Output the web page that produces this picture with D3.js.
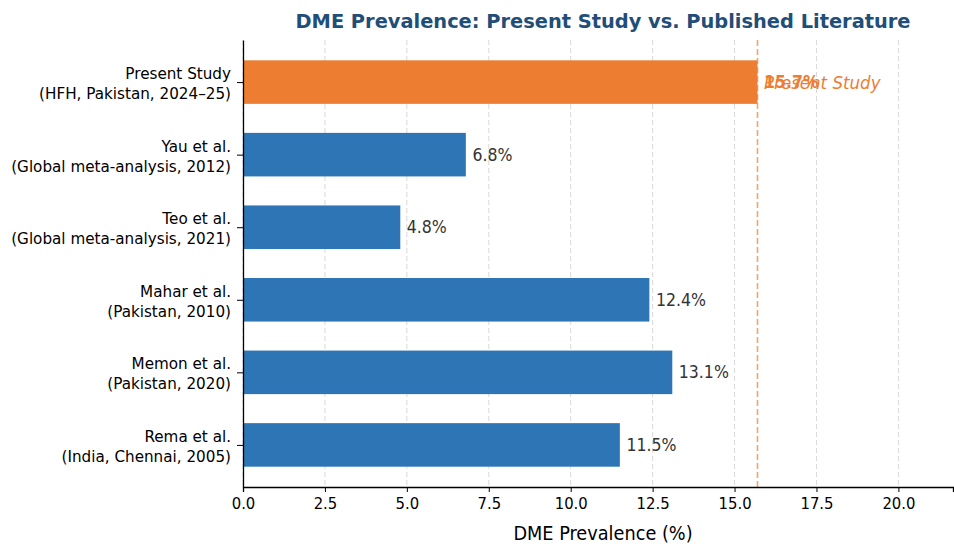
<!DOCTYPE html>
<html>
<head>
<meta charset="utf-8">
<script src="https://cdn.jsdelivr.net/npm/d3@7"></script>
<style>
  body { margin: 0; background: #fff; }
  svg { display: block; }
  .cond { font-family: "DejaVu Sans Condensed", "DejaVu Sans", sans-serif; font-stretch: condensed; }
</style>
</head>
<body>
<svg id="chart" width="954" height="544"></svg>
<script>
// Study labels (top to bottom) and DME prevalence values (%)
const studies = [
  ["Present Study", "(HFH, Pakistan, 2024\u201325)"],
  ["Yau et al.", "(Global meta-analysis, 2012)"],
  ["Teo et al.", "(Global meta-analysis, 2021)"],
  ["Mahar et al.", "(Pakistan, 2010)"],
  ["Memon et al.", "(Pakistan, 2020)"],
  ["Rema et al.", "(India, Chennai, 2005)"]
];
const prevalence = [15.7, 6.8, 4.8, 12.4, 13.1, 11.5];
const isPresent = [true, false, false, false, false, false];
const xTicks = [0, 2.5, 5, 7.5, 10, 12.5, 15, 17.5, 20];

const colorPresent = "#ED7D31";
const colorOther = "#2E75B6";

const svg = d3.select("#chart");
const margin = { top: 40, right: 1, bottom: 57, left: 243 };
const W = 954, H = 544;
const innerW = W - margin.left - margin.right;
const innerH = H - margin.top - margin.bottom;

const g = svg.append("g").attr("transform", `translate(${margin.left},${margin.top})`);

const xMax = d3.max(prevalence) * 1.38;
const x = d3.scaleLinear().domain([0, xMax]).range([0, innerW]);

// Category positions 0..n-1 with matplotlib-style padding
const n = studies.length;
const barH = 0.6;
const y = d3.scaleLinear().domain([-0.3 - 0.28, n - 1 + 0.3 + 0.28]).range([0, innerH]);

// Dashed vertical grid
g.append("g")
  .selectAll("line")
  .data(xTicks)
  .join("line")
  .attr("x1", d => x(d)).attr("x2", d => x(d))
  .attr("y1", 0).attr("y2", innerH)
  .attr("stroke", "#d9d9d9")
  .attr("stroke-width", 1)
  .attr("stroke-dasharray", "5,3");

// Bars
g.append("g")
  .selectAll("rect")
  .data(prevalence)
  .join("rect")
  .attr("x", x(0))
  .attr("y", (d, i) => y(i - barH / 2))
  .attr("width", d => x(d) - x(0))
  .attr("height", y(barH) - y(0))
  .attr("fill", (d, i) => isPresent[i] ? colorPresent : colorOther);

// Reference line at the present study's value
const presentVal = prevalence[isPresent.indexOf(true)];
g.append("line")
  .attr("x1", x(presentVal)).attr("x2", x(presentVal))
  .attr("y1", 0).attr("y2", innerH)
  .attr("stroke", colorPresent)
  .attr("stroke-opacity", 0.7)
  .attr("stroke-width", 1.6)
  .attr("stroke-dasharray", "6,3");

g.append("text")
  .attr("x", x(presentVal + 0.2))
  .attr("y", y(0))
  .attr("dy", "0.35em")
  .attr("fill", colorPresent)
  .attr("font-style", "italic")
  .attr("font-size", 18.5)
  .attr("class", "cond")
  .text("Present Study");

// Value labels
g.append("g")
  .selectAll("text")
  .data(prevalence)
  .join("text")
  .attr("class", "cond")
  .attr("x", d => x(d + 0.2))
  .attr("y", (d, i) => y(i))
  .attr("dy", "0.35em")
  .attr("font-size", 17.5)
  .attr("font-weight", (d, i) => isPresent[i] ? "bold" : "normal")
  .attr("fill", (d, i) => isPresent[i] ? colorPresent : "#333")
  .text(d => d.toFixed(1) + "%");

// X axis
const xAxis = g.append("g")
  .attr("transform", `translate(0,${innerH})`)
  .call(d3.axisBottom(x).tickValues(xTicks).tickFormat(d3.format(".1f")).tickSize(5).tickPadding(5));
xAxis.select(".domain").attr("stroke", "#000").attr("stroke-width", 1.3);
xAxis.selectAll(".tick line").attr("stroke", "#000");
xAxis.selectAll("text").attr("class", "cond").attr("font-size", 16.5).attr("fill", "#000");

// Y axis with two-line study labels
const yAxis = g.append("g")
  .call(d3.axisLeft(y).tickValues(d3.range(n)).tickFormat("").tickSize(6).tickSizeOuter(0));
yAxis.select(".domain").attr("stroke", "#000").attr("stroke-width", 1.3);
yAxis.selectAll(".tick line").attr("stroke", "#000");
yAxis.selectAll(".tick")
  .append("text")
  .attr("x", -12)
  .attr("text-anchor", "end")
  .attr("fill", "#000")
  .attr("font-family", "DejaVu Sans, sans-serif")
  .attr("font-size", 15.2)
  .selectAll("tspan")
  .data((d, i) => studies[i].map((t, k) => ({ t, k })))
  .join("tspan")
  .attr("x", -12)
  .attr("dy", s => s.k === 0 ? "-3.5" : "20")
  .text(s => s.t);

// Axis title
svg.append("text")
  .attr("class", "cond")
  .attr("x", 603)
  .attr("y", 540)
  .attr("text-anchor", "middle")
  .attr("font-size", 19.7)
  .attr("fill", "#000")
  .text("DME Prevalence (%)");

// Chart title
svg.append("text")
  .attr("x", 603)
  .attr("y", 28)
  .attr("text-anchor", "middle")
  .attr("font-family", "DejaVu Sans, sans-serif")
  .attr("font-weight", "bold")
  .attr("font-size", 19.4)
  .attr("fill", "#1F4E79")
  .text("DME Prevalence: Present Study vs. Published Literature");
</script>
</body>
</html>
